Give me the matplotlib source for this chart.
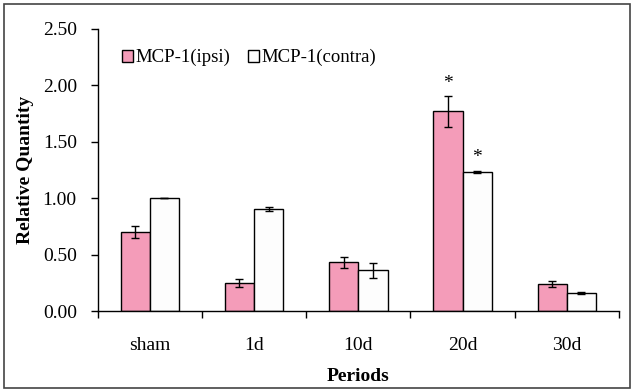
import matplotlib
matplotlib.use("Agg")
import matplotlib.pyplot as plt
from matplotlib.patches import Rectangle
import numpy as np

categories = ["sham", "1d", "10d", "20d", "30d"]
ipsi = [0.70, 0.25, 0.43, 1.77, 0.24]
ipsi_err = [0.05, 0.035, 0.05, 0.135, 0.03]
contra = [1.00, 0.905, 0.36, 1.235, 0.16]
contra_err = [0.0, 0.02, 0.065, 0.008, 0.006]
yticks = [0.0, 0.5, 1.0, 1.5, 2.0, 2.5]
star_ipsi = [False, False, False, True, False]
star_contra = [False, False, False, True, False]

plt.rcParams['font.family'] = ['Liberation Serif', 'DejaVu Serif']
fs = 14

fig = plt.figure(figsize=(6.33, 3.89), dpi=100)
ax = fig.add_axes([0.1543, 0.2005, 0.8236, 0.725])

x = np.arange(len(categories))
w = 0.28
ax.bar(x - w/2, ipsi, w, color="#F49CB9", edgecolor="black", linewidth=1.0,
       yerr=ipsi_err, error_kw=dict(ecolor="black", elinewidth=1.0, capsize=3, capthick=1.0),
       label="MCP-1(ipsi)", zorder=2)
ax.bar(x + w/2, contra, w, color="#FDFDFD", edgecolor="black", linewidth=1.0,
       yerr=contra_err, error_kw=dict(ecolor="black", elinewidth=1.0, capsize=3, capthick=1.0),
       label="MCP-1(contra)", zorder=2)

for i in range(len(categories)):
    if star_ipsi[i]:
        ax.text(x[i] - w/2, ipsi[i] + ipsi_err[i] + 0.04, "*", ha="center", va="bottom", fontsize=14)
    if star_contra[i]:
        ax.text(x[i] + w/2, contra[i] + contra_err[i] + 0.04, "*", ha="center", va="bottom", fontsize=14)

ax.set_xlim(-0.5, len(categories) - 0.5)
ax.set_ylim(0, 2.5)
ax.set_yticks(yticks)
ax.set_yticklabels([f"{v:.2f}" for v in yticks], fontsize=fs)
ax.set_xticks(np.arange(-0.5, len(categories), 1.0))
ax.set_xticklabels([])
ax.set_xticks(x, minor=True)
ax.set_xticklabels(categories, minor=True, fontsize=fs)
ax.tick_params(axis="x", which="minor", length=0, pad=19)
ax.tick_params(axis="x", which="major", length=5, direction="out", width=1)
ax.tick_params(axis="y", length=5, direction="out", width=1, pad=10)
for s in ["top", "right"]:
    ax.spines[s].set_visible(False)
for s in ["left", "bottom"]:
    ax.spines[s].set_linewidth(1.0)

ax.set_ylabel("Relative Quantity", fontsize=fs, fontweight="bold", labelpad=6)
ax.set_xlabel("Periods", fontsize=fs, fontweight="bold", labelpad=10)

leg = ax.legend(loc="upper left", bbox_to_anchor=(0.032, 0.955), ncol=2, frameon=False,
                fontsize=13.5, handlelength=0.6, handleheight=0.6, handletextpad=0.15,
                columnspacing=0.9, borderaxespad=0)

fig.patches.append(Rectangle((0.006, 0.003), 0.99, 0.986, transform=fig.transFigure,
                             fill=False, edgecolor="#444444", linewidth=1.2))

fig.savefig("out.png", dpi=100)
